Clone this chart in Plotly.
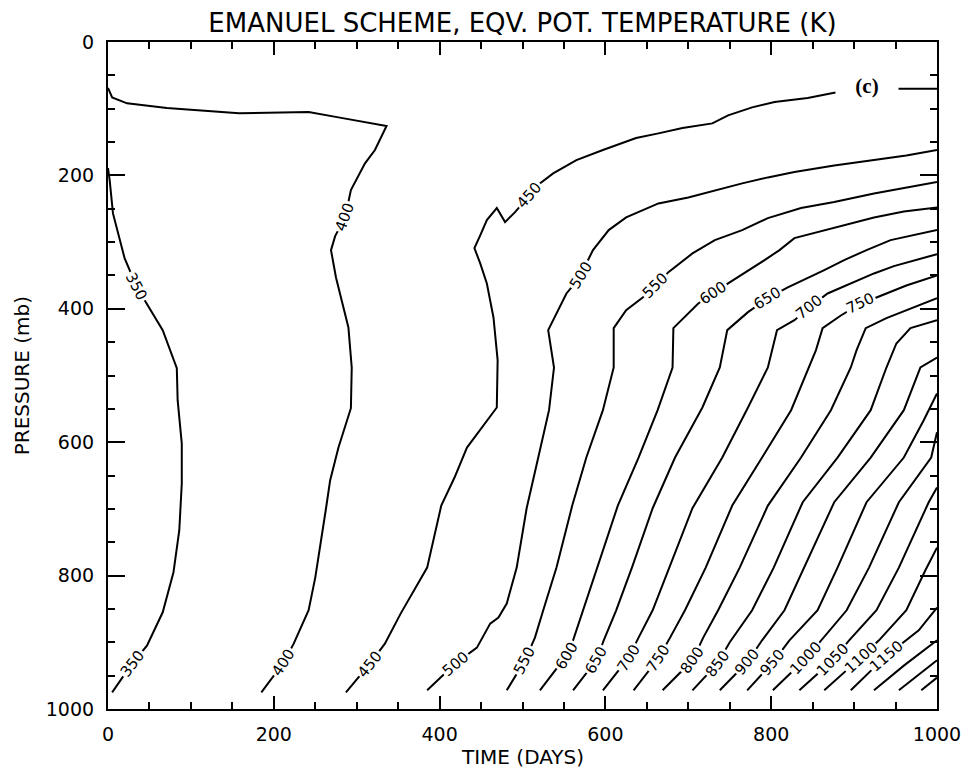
import math
import plotly.graph_objects as go

# Equivalent potential temperature isopleths (K): time in days, pressure in mb
t350 = [0, 2, 6, 20, 35, 47, 66, 83, 84, 89, 89, 86, 79, 66, 47, 29, 5]
p350 = [189, 207, 257, 324, 368, 392, 432, 489, 537, 602, 662, 732, 795, 855, 905, 932, 975]

t400 = [0, 5, 23, 71, 158, 242, 278, 310, 336, 322, 310, 293, 286, 274, 269, 275, 284,
        290, 294, 293, 278, 268, 263, 257, 250, 242, 224, 212, 185]
p400 = [69, 83, 92, 99, 107, 105, 113, 120, 126, 162, 182, 222, 263, 291, 312, 353, 398,
        428, 488, 549, 608, 657, 699, 747, 803, 852, 902, 930, 975]

t450 = [1000, 950, 912, 876, 844, 804, 777, 748, 729, 693, 664, 637, 597, 565, 537, 521,
        491, 479, 469, 457, 449, 442, 449, 457, 465, 470, 469, 445, 433, 418, 402, 385,
        353, 334, 316, 287]
p450 = [70, 70, 72, 76, 84, 90, 98, 110, 122, 129, 137, 144, 162, 177, 197, 212,
        255, 270, 249, 267, 290, 309, 332, 362, 413, 477, 548, 587, 608, 653, 695, 788,
        857, 902, 932, 975]

t500 = [1000, 963, 924, 876, 828, 796, 765, 724, 700, 664, 625, 604, 585, 577, 571, 553,
        531, 538, 532, 519, 505, 493, 481, 471, 461, 445, 437, 419, 385]
p500 = [162, 170, 177, 185, 195, 203, 212, 225, 233, 242, 263, 282, 312, 332, 350, 377,
        432, 488, 552, 623, 699, 788, 842, 863, 872, 908, 915, 932, 972]

t550 = [1000, 963, 924, 876, 836, 796, 765, 732, 705, 676, 661, 645, 625, 610, 610, 597,
        577, 560, 541, 525, 515, 503, 481]
p550 = [210, 218, 227, 240, 249, 264, 282, 297, 317, 345, 365, 383, 402, 429, 488, 552,
        623, 695, 788, 852, 893, 927, 972]

t600 = [1000, 960, 924, 876, 828, 810, 792, 748, 730, 712, 682, 681, 663, 640, 615, 590,
        573, 561, 553, 521]
p600 = [248, 254, 263, 278, 294, 312, 327, 362, 377, 392, 429, 488, 552, 623, 695, 788,
        852, 897, 920, 972]

t650 = [1000, 944, 915, 888, 864, 820, 796, 772, 747, 742, 738, 717, 684, 657, 632, 613,
        598, 589, 561]
p650 = [282, 297, 312, 327, 342, 368, 384, 405, 432, 462, 488, 548, 623, 699, 788, 852,
        897, 927, 972]

t700 = [1000, 948, 924, 868, 846, 828, 807, 801, 796, 772, 741, 705, 677, 657, 640, 628, 597]
p700 = [318, 336, 347, 377, 398, 417, 432, 462, 488, 548, 623, 699, 788, 852, 893, 923, 972]

t750 = [1000, 963, 927, 908, 884, 862, 854, 844, 824, 789, 753, 721, 696, 678, 664, 634]
p750 = [350, 365, 383, 392, 410, 429, 462, 492, 552, 623, 695, 788, 852, 893, 924, 972]

t800 = [1000, 978, 939, 914, 903, 896, 872, 836, 796, 762, 736, 718, 705, 669]
p800 = [384, 395, 414, 429, 462, 488, 552, 623, 695, 788, 852, 893, 927, 972]

t850 = [1000, 968, 951, 939, 920, 880, 838, 803, 777, 750, 735, 705]
p850 = [417, 429, 452, 488, 552, 623, 690, 788, 852, 900, 932, 972]

t900 = [1000, 980, 960, 920, 876, 840, 816, 789, 771, 738]
p900 = [473, 488, 552, 623, 690, 788, 852, 897, 930, 972]

t950 = [1000, 984, 960, 915, 880, 856, 822, 802, 771]
p950 = [527, 567, 623, 690, 788, 852, 897, 930, 972]

t1000 = [1000, 993, 954, 918, 891, 860, 842, 802]
p1000 = [585, 623, 690, 788, 852, 897, 924, 972]

t1050 = [1000, 990, 954, 927, 894, 874, 834]
p1050 = [668, 690, 788, 852, 897, 927, 972]

t1100 = [1000, 986, 963, 930, 908, 864]
p1100 = [758, 792, 852, 897, 923, 972]

t1150 = [1000, 978, 939, 896]
p1150 = [848, 882, 920, 972]

t1200 = [1000, 960, 924]
p1200 = [897, 935, 972]

t1250 = [1000, 954]
p1250 = [927, 972]

t1300 = [1000, 981]
p1300 = [953, 972]

levels = [350, 400, 450, 500, 550, 600, 650, 700, 750, 800, 850, 900,
          950, 1000, 1050, 1100, 1150, 1200, 1250, 1300]
isopleths = {
    350: (t350, p350), 400: (t400, p400), 450: (t450, p450), 500: (t500, p500),
    550: (t550, p550), 600: (t600, p600), 650: (t650, p650), 700: (t700, p700),
    750: (t750, p750), 800: (t800, p800), 850: (t850, p850), 900: (t900, p900),
    950: (t950, p950), 1000: (t1000, p1000), 1050: (t1050, p1050),
    1100: (t1100, p1100), 1150: (t1150, p1150), 1200: (t1200, p1200),
    1250: (t1250, p1250), 1300: (t1300, p1300),
}

# Inline labels: (level, pressure where the label sits, which crossing along the line)
label_spec = [
    (350, 367, "first"), (350, 932, "last"),
    (400, 263, "first"), (400, 930, "last"),
    (450, 230, "first"), (450, 932, "last"),
    (500, 350, "first"), (500, 932, "last"),
    (550, 365, "first"), (550, 927, "last"),
    (600, 377, "first"), (600, 920, "last"),
    (650, 384, "first"), (650, 927, "last"),
    (700, 398, "first"), (700, 923, "last"),
    (750, 392, "first"), (750, 924, "last"),
    (800, 927, "last"), (850, 932, "last"), (900, 930, "last"),
    (950, 930, "last"), (1000, 924, "last"), (1050, 927, "last"),
    (1100, 923, "last"), (1150, 920, "last"),
]

# plot-area size in px, used only to orient labels along the lines
PW, PH = 835.0, 667.0
SX, SY = PW / 1000.0, PH / 1000.0

FONT = "DejaVu Sans"

fig = go.Figure()
for lev in levels:
    t, p = isopleths[lev]
    fig.add_trace(go.Scatter(x=t, y=p, mode="lines",
                             line=dict(color="black", width=2),
                             hoverinfo="skip", showlegend=False))


def point_at(xs, ys, cum, s):
    s = max(0.0, min(cum[-1], s))
    for i in range(len(cum) - 1):
        if cum[i + 1] >= s:
            seg = cum[i + 1] - cum[i]
            f = 0.0 if seg == 0 else (s - cum[i]) / seg
            return xs[i] + f * (xs[i + 1] - xs[i]), ys[i] + f * (ys[i + 1] - ys[i])
    return xs[-1], ys[-1]


annotations = []
for lev, ptarget, which in label_spec:
    t, p = isopleths[lev]
    xs = [v * SX for v in t]
    ys = [v * SY for v in p]
    cum = [0.0]
    for i in range(1, len(xs)):
        cum.append(cum[-1] + math.hypot(xs[i] - xs[i - 1], ys[i] - ys[i - 1]))
    hits = []
    for i in range(len(p) - 1):
        a, b = p[i], p[i + 1]
        if a != b and (a - ptarget) * (b - ptarget) <= 0:
            f = (ptarget - a) / (b - a)
            hits.append(cum[i] + f * (cum[i + 1] - cum[i]))
    s = hits[0] if which == "first" else hits[-1]
    x0, y0 = point_at(xs, ys, cum, s)
    xa, ya = point_at(xs, ys, cum, s - 12)
    xb, yb = point_at(xs, ys, cum, s + 12)
    ang = math.degrees(math.atan2(yb - ya, xb - xa))
    while ang > 90:
        ang -= 180
    while ang <= -90:
        ang += 180
    annotations.append(dict(
        x=x0 / SX, y=y0 / SY, xref="x", yref="y", text=str(lev),
        showarrow=False, textangle=ang, xanchor="center", yanchor="middle",
        font=dict(family=FONT, size=15, color="black"),
        bgcolor="white", borderpad=1,
    ))

# panel tag
annotations.append(dict(
    x=0.915, y=0.934, xref="paper", yref="paper", text="<b>(c)</b>",
    showarrow=False, xanchor="center", yanchor="middle",
    font=dict(family="Liberation Serif", size=21, color="black"),
    bgcolor="white", width=60, height=26,
))

# axis titles
annotations.append(dict(
    x=0.5, y=-0.072, xref="paper", yref="paper", text="TIME (DAYS)",
    showarrow=False, xanchor="center", yanchor="middle",
    font=dict(family=FONT, size=20, color="black"),
))
annotations.append(dict(
    x=-0.104, y=0.5, xref="paper", yref="paper", text="PRESSURE (mb)",
    showarrow=False, xanchor="center", yanchor="middle", textangle=-90,
    font=dict(family=FONT, size=20, color="black"),
))

axis_common = dict(
    showline=True, linewidth=2.2, linecolor="black", mirror="ticks",
    ticks="inside", tickwidth=1.8, tickcolor="black",
    showgrid=False, zeroline=False,
    tickfont=dict(family=FONT, size=19, color="black"),
    minor=dict(ticks="inside", ticklen=7, tickwidth=1.5, tickcolor="black",
               dtick=50, showgrid=False),
)

fig.update_layout(
    width=973, height=777,
    margin=dict(l=108, r=30, t=42, b=68),
    paper_bgcolor="white", plot_bgcolor="white",
    title=dict(text="EMANUEL SCHEME, EQV. POT. TEMPERATURE (K)",
               x=0.5, xref="paper", xanchor="center",
               y=1 - 23 / 777, yref="container", yanchor="middle",
               font=dict(family=FONT, size=26, color="black")),
    xaxis=dict(range=[0, 1000], tickmode="array",
               tickvals=[0, 200, 400, 600, 800, 1000], ticklen=13,
               ticklabelstandoff=7, **axis_common),
    yaxis=dict(range=[1000, 0], tickmode="array",
               tickvals=[0, 200, 400, 600, 800, 1000], ticklen=17,
               ticklabelstandoff=8, **axis_common),
    annotations=annotations,
    showlegend=False,
)

fig.write_html("out.html")
